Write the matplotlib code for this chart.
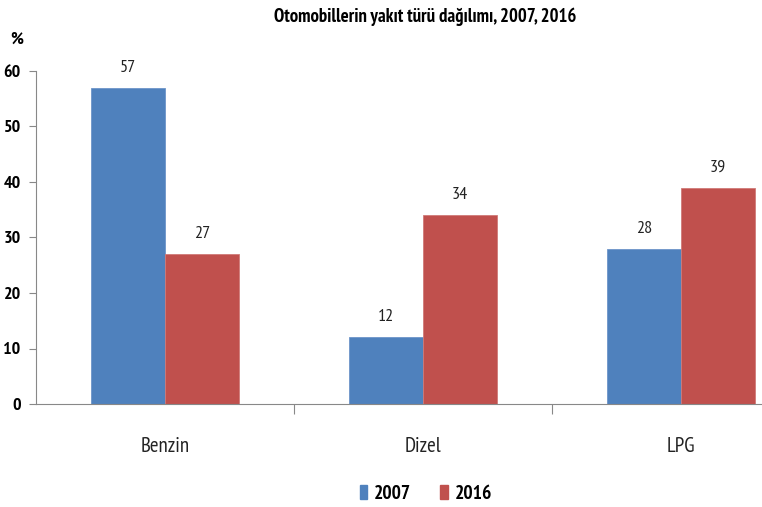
import numpy as np
import matplotlib
matplotlib.use("Agg")
import matplotlib.pyplot as plt
from matplotlib.patches import Patch

categories = ["Benzin", "Dizel", "LPG"]
years = ["2007", "2016"]
v2007 = [57, 12, 28]
v2016 = [27, 34, 39]
colors = ["#4F81BD", "#C0504D"]

plt.rcParams["font.family"] = ["PT Sans Narrow", "DejaVu Sans"]

fig = plt.figure(figsize=(7.62, 5.07), dpi=100)
# axes runs past the right edge like in the original (clipped chart)
ax = fig.add_axes([36 / 762, 1 - 404 / 507, 774 / 762, (404 - 71) / 507])

x = np.arange(len(categories))
w = 0.285
b1 = ax.bar(x - w / 2, v2007, w, color=colors[0], edgecolor="#6d95c9", linewidth=0.6)
b2 = ax.bar(x + w / 2, v2016, w, color=colors[1], edgecolor="#d07a78", linewidth=0.6)

for bars in (b1, b2):
    for r in bars:
        ax.text(r.get_x() + r.get_width() / 2, r.get_height() + 3.6, f"{r.get_height():.0f}",
                ha="center", va="center", fontsize=13, color="#222222")

ax.set_xlim(-0.5, 2.5)
ax.set_ylim(0, 60)
ax.set_yticks(range(0, 61, 10))
for lab in ax.get_yticklabels():
    lab.set_fontweight("bold")
ax.tick_params(axis="y", labelsize=13, length=5, color="#888888", pad=6)

ax.set_xticks([0.5, 1.5])
ax.set_xticklabels([])
ax.tick_params(axis="x", length=7, color="#888888")
for i, c in enumerate(categories):
    ax.text(i, -7.7, c, ha="center", va="center", fontsize=15, color="#222222")

for s in ["top", "right"]:
    ax.spines[s].set_visible(False)
ax.spines["left"].set_color("#888888")
ax.spines["bottom"].set_color("#888888")

fig.text(425 / 762, 1 - 17 / 507, "Otomobillerin yakıt türü dağılımı, 2007, 2016",
         ha="center", va="center", fontsize=13.5, fontweight="bold")
fig.text(17 / 762, 1 - 40 / 507, "%", ha="center", va="center", fontsize=13, fontweight="bold")

handles = [Patch(color=colors[0]), Patch(color=colors[1])]
fig.legend(handles, years, loc="center", bbox_to_anchor=(426 / 762, 1 - 494 / 507),
           ncol=2, frameon=False, prop={"weight": "bold", "size": 14},
           handlelength=0.4, handleheight=0.75, handletextpad=0.35, columnspacing=1.5)

fig.savefig("out.png", dpi=100)
